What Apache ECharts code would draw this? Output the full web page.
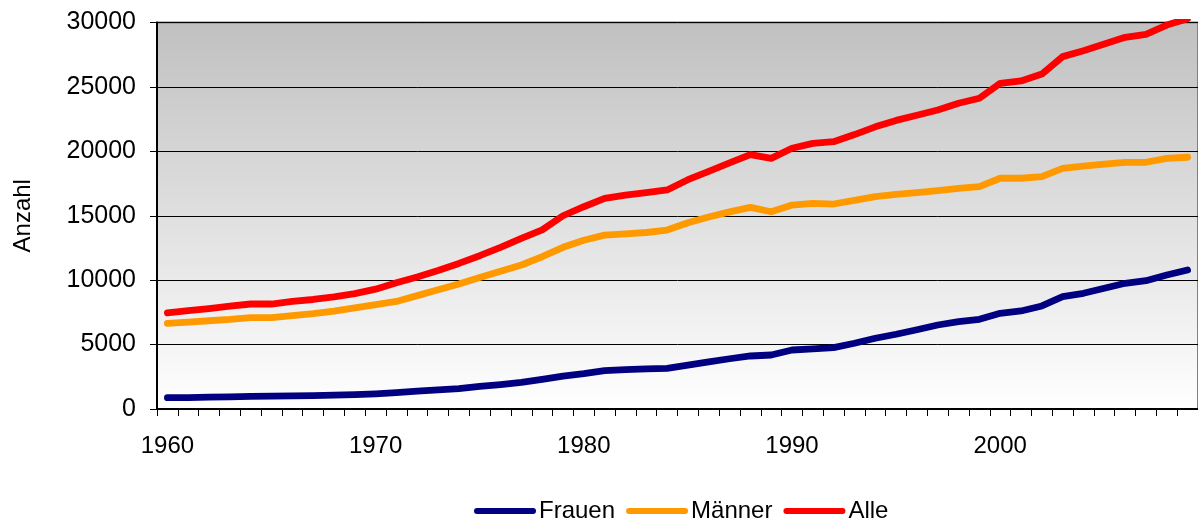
<!DOCTYPE html>
<html>
<head>
<meta charset="utf-8">
<script src="https://cdn.jsdelivr.net/npm/echarts@6/dist/echarts.min.js"></script>
<style>
html,body{margin:0;padding:0;background:#fff;}
#chart{width:1198px;height:519px;}
</style>
</head>
<body>
<div id="chart"></div>
<script>
const years = ['1960','1961','1962','1963','1964','1965','1966','1967','1968','1969',
  '1970','1971','1972','1973','1974','1975','1976','1977','1978','1979',
  '1980','1981','1982','1983','1984','1985','1986','1987','1988','1989',
  '1990','1991','1992','1993','1994','1995','1996','1997','1998','1999',
  '2000','2001','2002','2003','2004','2005','2006','2007','2008','2009'];
const frauen = [880,880,920,940,980,1000,1020,1040,1070,1120,
  1180,1265,1380,1480,1580,1750,1900,2060,2300,2550,
  2740,2975,3050,3110,3160,3400,3650,3900,4115,4190,
  4580,4660,4760,5100,5490,5800,6150,6520,6780,6960,
  7430,7610,8000,8720,8980,9370,9760,9960,10400,10790];
const maenner = [6650,6750,6850,6950,7100,7100,7250,7400,7600,7850,
  8100,8350,8800,9250,9700,10200,10700,11180,11820,12550,
  13100,13500,13600,13700,13890,14450,14900,15300,15650,15310,
  15830,15960,15910,16200,16480,16650,16800,16950,17130,17260,
  17910,17910,18030,18680,18860,19000,19150,19150,19460,19540];
const alle = [7465,7630,7800,7980,8150,8150,8350,8500,8700,8950,
  9300,9800,10250,10750,11300,11900,12550,13250,13900,15000,
  15700,16350,16600,16800,17000,17800,18450,19100,19750,19450,
  20240,20620,20750,21300,21900,22400,22800,23210,23730,24120,
  25280,25460,26000,27350,27810,28330,28850,29080,29800,30300];
const seriesNames = ['Frauen','Männer','Alle'];
const seriesColors = ['#000080','#FF9900','#FF0000'];
const yTicks = {min:0, max:30000, interval:5000};

const FONT = 'Liberation Sans, Arial, sans-serif';
const chart = echarts.init(document.getElementById('chart'), null, {renderer:'canvas'});
const pill = 'path://M3,0 L59,0 A3,3 0 0 1 59,6 L3,6 A3,3 0 0 1 3,0 Z';
function mkSeries(name, data, color){
  return {
    name: name, type:'line', data: data, symbol:'none', smooth:false,
    lineStyle:{color:color, width:6.8, cap:'round', join:'round'},
    itemStyle:{color:color}, clip:true, animation:false
  };
}
chart.setOption({
  animation:false,
  textStyle:{fontFamily:FONT},
  grid:{left:157, top:22.5, width:1053, height:386.5, show:true,
    backgroundColor:{type:'linear', x:0, y:0, x2:0, y2:1,
      colorStops:[{offset:0, color:'#c0c0c0'},{offset:1, color:'#ffffff'}]},
    borderColor:'#808080', borderWidth:2},
  legend:{
    data: seriesNames.map((n,i)=>({name:n, icon:pill, itemStyle:{color:seriesColors[i]}})),
    left:469, top:494, itemWidth:62, itemHeight:7, itemGap:11,
    textStyle:{fontFamily:FONT, fontSize:24, color:'#000', padding:[0,0,0,-2]}
  },
  xAxis:{
    type:'category', data:years, boundaryGap:true,
    axisLine:{lineStyle:{color:'#000', width:2}},
    axisTick:{show:true, interval:0, length:7, lineStyle:{color:'#000', width:1}},
    axisLabel:{interval:9, margin:25, fontSize:24, color:'#000', fontFamily:FONT},
    splitLine:{show:false}
  },
  yAxis:{
    type:'value', min:yTicks.min, max:yTicks.max, interval:yTicks.interval,
    name:'Anzahl', nameLocation:'middle', nameGap:122, nameRotate:90,
    nameTextStyle:{fontSize:24, color:'#000', fontFamily:FONT},
    axisLine:{show:true, lineStyle:{color:'#000', width:2}},
    axisTick:{show:true, length:7, lineStyle:{color:'#000', width:1}},
    axisLabel:{margin:21, fontSize:25, color:'#000', fontFamily:FONT,
      formatter:function(v){return String(v);}},
    splitLine:{show:true, lineStyle:{color:'#000', width:1}}
  },
  series:[
    mkSeries(seriesNames[0], frauen, seriesColors[0]),
    mkSeries(seriesNames[1], maenner, seriesColors[1]),
    mkSeries(seriesNames[2], alle, seriesColors[2])
  ]
});
</script>
</body>
</html>
